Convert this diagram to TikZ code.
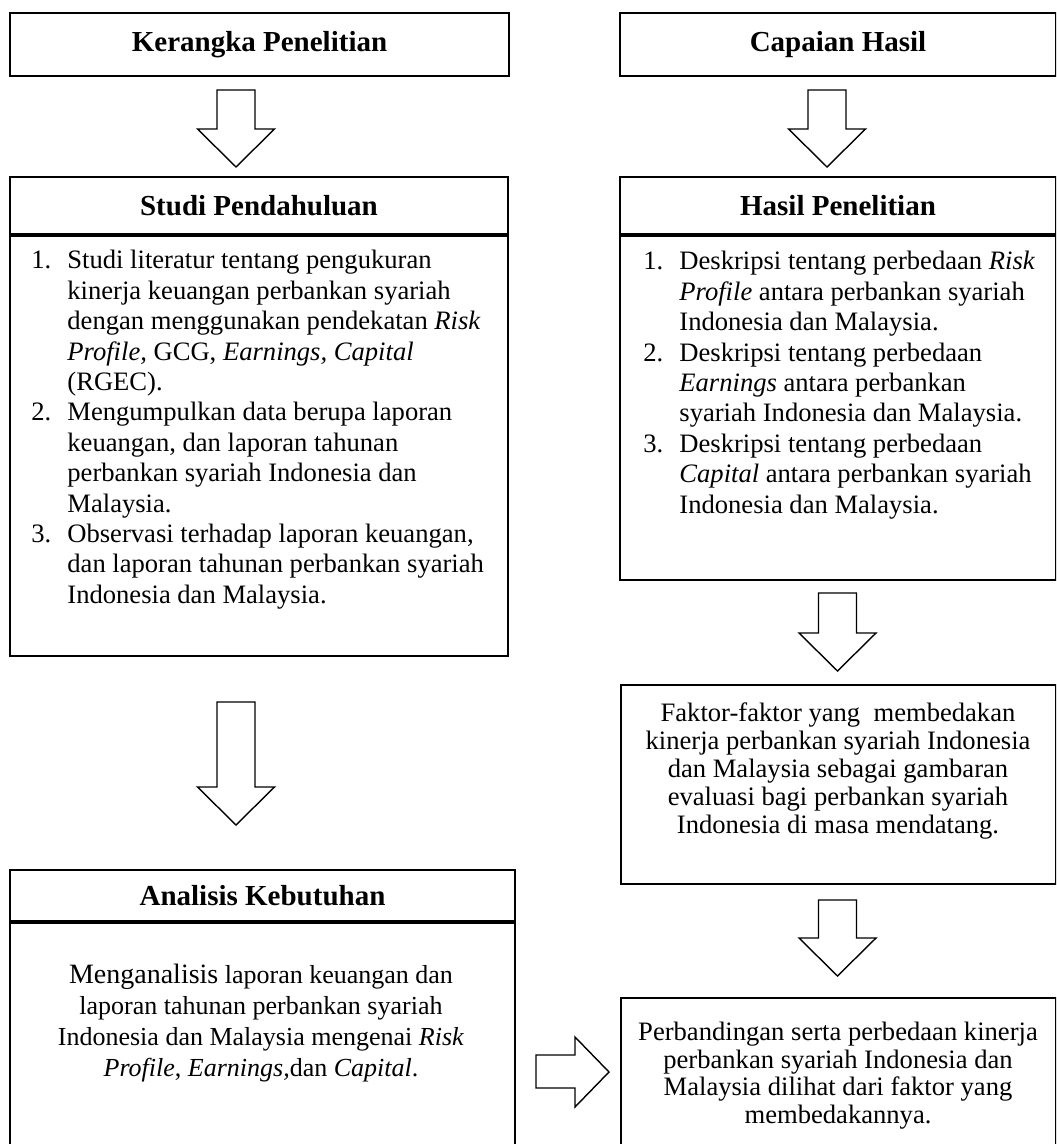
\documentclass[tikz,border=0pt]{standalone}
\usepackage{fontspec}
\setmainfont{Liberation Serif}
\usetikzlibrary{positioning, calc}

\begin{document}
\begin{tikzpicture}[
    % GLOBAL CFG
    x=0.5pt, y=-0.5pt,
    font=\fontsize{13.3}{15.2}\selectfont,
    % Styles
    box/.style={% For the plain boxes
        rectangle,
        draw,
        line width=1pt,
        anchor=north west,
        inner sep=0pt,
        },
    title/.style={% For the bold headings
        box,
        font=\fontsize{14.5}{16}\selectfont\bfseries,
        },
    listtext/.style={% For the numbered lists
        anchor=north west,
        align=left,
        inner sep=0pt,
        },
    plaintext/.style={% For the centred texts
        anchor=north,
        align=center,
        inner sep=0pt,
        },
    hollow/.style={% For the block arrows
        draw,
        line width=0.7pt,
        fill=white,
        },
    pics/blockdown/.style={code={%
        \draw[hollow] (-19,0) -- (19,0) -- (19,#1) -- (38.5,#1)
            -- (0,#1+38) -- (-38.5,#1) -- (-19,#1) -- cycle;
        }},
    ]

%Start drawing the thing...
    \fill[white] (0,0) rectangle (1056,1144);
    \clip (0,0) rectangle (1056,1144);

    % Draw the left column boxes
    \node [title, minimum width=249.5pt, minimum height=31.5pt] (kerangka) at (9,12) {Kerangka Penelitian};
    \node [title, minimum width=249pt, minimum height=28.5pt] (studihead) at (9,176) {Studi Pendahuluan};
    \node [box, minimum width=249pt, minimum height=210pt] (studibody) at (studihead.south west) {};
    \node [title, minimum width=252.5pt, minimum height=25.5pt] (analisishead) at (9,869) {Analisis Kebutuhan};
    \node [box, minimum width=252.5pt, minimum height=125pt] (analisisbody) at (analisishead.south west) {};

    % Draw the right column boxes
    \node [title, minimum width=218pt, minimum height=31.5pt] (capaian) at (619,12) {Capaian Hasil};
    \node [title, minimum width=218pt, minimum height=28.5pt] (hasilhead) at (619,176) {Hasil Penelitian};
    \node [box, minimum width=218pt, minimum height=172pt] (hasilbody) at (hasilhead.south west) {};
    \node [box, minimum width=217.5pt, minimum height=99.5pt] (faktor) at (620,684) {};
    \node [box, minimum width=217.5pt, minimum height=85pt] (banding) at (620,997) {};

    % Draw texts inside the boxes
    \node [listtext] (studitext) at (31,250) {%
        \makebox[18pt][l]{1.}Studi literatur tentang pengukuran\\
        \hspace*{18pt}kinerja keuangan perbankan syariah\\
        \hspace*{18pt}dengan menggunakan pendekatan \textit{Risk}\\
        \hspace*{18pt}\textit{Profile,} GCG, \textit{Earnings, Capital}\\
        \hspace*{18pt}(RGEC).\\
        \makebox[18pt][l]{2.}Mengumpulkan data berupa laporan\\
        \hspace*{18pt}keuangan, dan laporan tahunan\\
        \hspace*{18pt}perbankan syariah Indonesia dan\\
        \hspace*{18pt}Malaysia.\\
        \makebox[18pt][l]{3.}Observasi terhadap laporan keuangan,\\
        \hspace*{18pt}dan laporan tahunan perbankan syariah\\
        \hspace*{18pt}Indonesia dan Malaysia.};
    \node [plaintext, font=\fontsize{13}{15.5}\selectfont] (analisistext) at (261,964) {%
        {\fontsize{14}{15.5}\selectfont Menganalisis} laporan keuangan dan\\
        laporan tahunan perbankan syariah\\
        Indonesia dan Malaysia mengenai \textit{Risk}\\
        \textit{Profile}, \textit{Earnings,}dan \textit{Capital}.};
    \node [listtext] (hasiltext) at (643,251) {%
        \makebox[18pt][l]{1.}Deskripsi tentang perbedaan \textit{Risk}\\
        \hspace*{18pt}\textit{Profile} antara perbankan syariah\\
        \hspace*{18pt}Indonesia dan Malaysia.\\
        \makebox[18pt][l]{2.}Deskripsi tentang perbedaan\\
        \hspace*{18pt}\textit{Earnings} antara perbankan\\
        \hspace*{18pt}syariah Indonesia dan Malaysia.\\
        \makebox[18pt][l]{3.}Deskripsi tentang perbedaan\\
        \hspace*{18pt}\textit{Capital} antara perbankan syariah\\
        \hspace*{18pt}Indonesia dan Malaysia.};
    \node [plaintext, font=\fontsize{13.3}{14}\selectfont] (faktortext) at (838,702) {%
        Faktor-faktor yang \ membedakan\\
        kinerja perbankan syariah Indonesia\\
        dan Malaysia sebagai gambaran\\
        evaluasi bagi perbankan syariah\\
        Indonesia di masa mendatang.};
    \node [plaintext, font=\fontsize{13.3}{13.7}\selectfont] (bandingtext) at (838,1022) {%
        Perbandingan serta perbedaan kinerja\\
        perbankan syariah Indonesia dan\\
        Malaysia dilihat dari faktor yang\\
        membedakannya.};

    % Draw the block arrows
    \pic (arrowA) at (236,90) {blockdown=39};
    \pic (arrowB) at (236,702) {blockdown=85};
    \pic (arrowC) at (827,90) {blockdown=39};
    \pic (arrowD) at (837.5,593) {blockdown=40};
    \pic (arrowE) at (837.5,900) {blockdown=38};
    \draw [hollow] (536,1055) -- (575,1055) -- (575,1037) -- (609,1072)
        -- (575,1107) -- (575,1088) -- (536,1088) -- cycle;

\end{tikzpicture}
\end{document}
